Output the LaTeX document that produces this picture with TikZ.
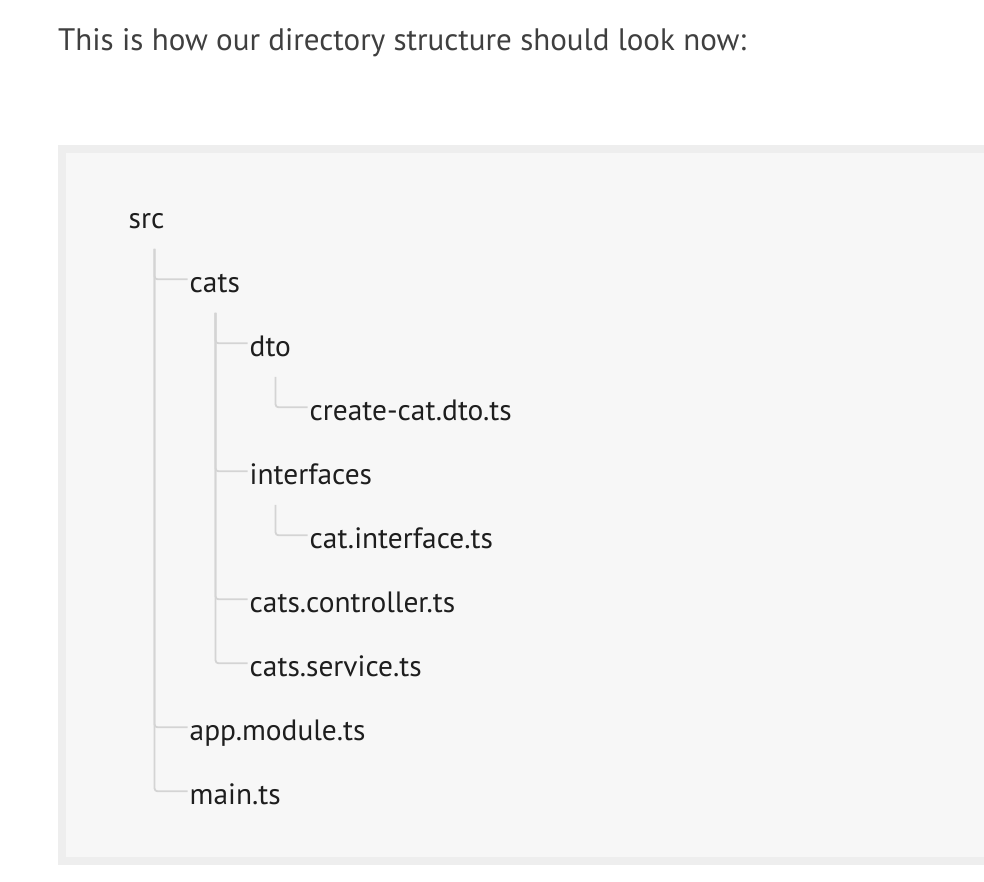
\documentclass[tikz,border=0pt]{standalone}
\usepackage{fontspec}
\setmainfont{PT Sans}
\usetikzlibrary{calc}
\definecolor{headc}{HTML}{3F3F3F}
\definecolor{treec}{HTML}{1E1E1E}
\definecolor{linec}{HTML}{D4D4D4}
\definecolor{boxborder}{HTML}{EEEEEE}
\definecolor{boxfill}{HTML}{F7F7F7}
\newlength\headw
\newlength\treew
\begin{document}%
\settowidth\headw{\fontsize{10pt}{12pt}\selectfont This is how our directory structure should look now:}%
\pgfmathsetmacro\hs{10*688/\headw}%
\settowidth\treew{\fontsize{10pt}{12pt}\selectfont create-cat.dto.ts}%
\pgfmathsetmacro\ts{10*202/\treew}%
\begin{tikzpicture}[x=1pt,y=-1pt,
  heading/.style={inner sep=0pt, anchor=base west, text=headc, font=\fontsize{\hs pt}{\hs pt}\selectfont},
  item/.style={inner sep=0pt, anchor=base west, text=treec, font=\fontsize{\ts pt}{\ts pt}\selectfont},
  branch/.style={draw=linec, line width=1.8pt, rounded corners=3pt}]
\useasboundingbox (0,0) rectangle (984,882);
\fill[white] (0,0) rectangle (984,882);
\fill[boxborder] (58,145) rectangle (984,865);
\fill[boxfill] (66,153) rectangle (984,857);
\node[heading] (head) at (58,50.7) {This is how our directory structure should look now:};
\node[item] (src) at (128.5,228.3) {src};
\node[item] (cats) at (189.5,292.3) {cats};
\node[item] (dto) at (249.5,356.3) {dto};
\node[item] (create) at (309.5,420.3) {create-cat.dto.ts};
\node[item] (interfaces) at (249.5,484.3) {interfaces};
\node[item] (catif) at (309.5,548.3) {cat.interface.ts};
\node[item] (ctrl) at (249.5,612.3) {cats.controller.ts};
\node[item] (svc) at (249.5,676.3) {cats.service.ts};
\node[item] (app) at (189.5,740.3) {app.module.ts};
\node[item] (main) at (189.5,804.3) {main.ts};
\foreach \p/\c in {src/cats, src/app, src/main, cats/dto, cats/interfaces, cats/ctrl, cats/svc, dto/create, interfaces/catif}{
  \draw[branch] ($(\p.base west)+(26,20.5)$) |- ($(\c.base west)+(-2,-13)$);
}
\end{tikzpicture}
\end{document}
